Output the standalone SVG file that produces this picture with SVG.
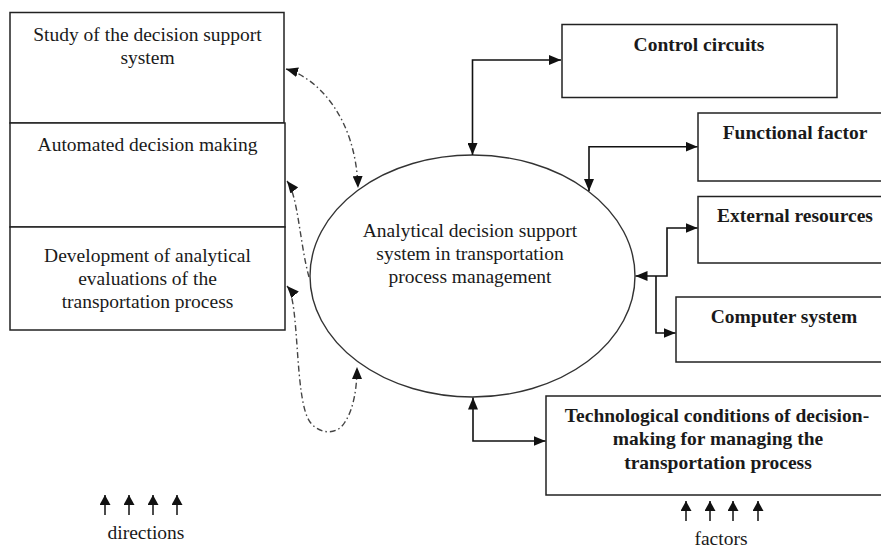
<svg xmlns="http://www.w3.org/2000/svg" width="881" height="551" viewBox="0 0 881 551">
<defs>
<style>
.box{fill:#fff;stroke:#222;stroke-width:1.5}
.t{font-family:"Liberation Serif","Times New Roman",serif;font-size:19.5px;fill:#1a1a1a;text-anchor:middle}
.b{font-weight:bold}
.con{fill:none;stroke:#111;stroke-width:1.6}
.dd{fill:none;stroke:#444;stroke-width:1.4;stroke-dasharray:6 3 1.5 3}
.sm{fill:none;stroke:#111;stroke-width:1.5}
</style>
<marker id="ah" viewBox="0 0 12 10" refX="12" refY="5" markerWidth="12" markerHeight="10" markerUnits="userSpaceOnUse" orient="auto-start-reverse">
<path d="M0,0 L12,5 L0,10 Z" fill="#111"/>
</marker>
<marker id="ahs" viewBox="0 0 10 11" refX="10" refY="5.5" markerWidth="10" markerHeight="11" markerUnits="userSpaceOnUse" orient="auto-start-reverse">
<path d="M0,0 L10,5.5 L0,11 Z" fill="#111"/>
</marker>
</defs>
<rect width="881" height="551" fill="#fff"/>

<g id="study">
<rect class="box" x="10" y="12.5" width="274" height="110.5"/>
<text class="t" x="147.5" y="41">Study of the decision support</text>
<text class="t" x="147.5" y="64">system</text>
</g>
<g id="automated">
<rect class="box" x="10" y="123" width="275" height="104"/>
<text class="t" x="147.5" y="151">Automated decision making</text>
</g>
<g id="development">
<rect class="box" x="10" y="227" width="275" height="103"/>
<text class="t" x="147.5" y="262">Development of analytical</text>
<text class="t" x="147.5" y="285">evaluations of the</text>
<text class="t" x="147.5" y="308">transportation process</text>
</g>

<g id="center">
<ellipse cx="472.5" cy="276" rx="162.5" ry="121" fill="#fff" stroke="#333" stroke-width="1.4"/>
<text class="t" x="470" y="237">Analytical decision support</text>
<text class="t" x="470" y="260">system in transportation</text>
<text class="t" x="470" y="283">process management</text>
</g>

<g id="control">
<rect class="box" x="562" y="24.5" width="275" height="73"/>
<text class="t b" x="699" y="51">Control circuits</text>
</g>
<g id="functional">
<rect class="box" x="698" y="113" width="200" height="68"/>
<text class="t b" x="795" y="139">Functional factor</text>
</g>
<g id="external">
<rect class="box" x="698" y="196.5" width="200" height="66.5"/>
<text class="t b" x="795" y="222">External resources</text>
</g>
<g id="computer">
<rect class="box" x="676" y="297" width="220" height="65"/>
<text class="t b" x="784" y="323">Computer system</text>
</g>
<g id="technological">
<rect class="box" x="546" y="396" width="350" height="99"/>
<text class="t b" x="717" y="422">Technological conditions of decision-</text>
<text class="t b" x="718" y="445">making for managing the</text>
<text class="t b" x="718" y="469">transportation process</text>
</g>

<g id="connectors">
<path class="con" d="M472.5,155 V60 H561" marker-start="url(#ah)" marker-end="url(#ah)"/>
<path class="con" d="M589,191 V146.7 H697.5" marker-start="url(#ah)" marker-end="url(#ah)"/>
<path class="con" d="M635.5,276 H667 V228 H697.5" marker-start="url(#ah)" marker-end="url(#ah)"/>
<path class="con" d="M656,276 V333 H675.5" marker-end="url(#ah)"/>
<path class="con" d="M473,397.5 V441 H545.5" marker-start="url(#ah)" marker-end="url(#ah)"/>
<path class="dd" d="M286,69 C318,78 356,118 358,188" marker-start="url(#ah)" marker-end="url(#ah)"/>
<path class="dd" d="M309,277 C300,245 298,195 287,181" marker-end="url(#ah)"/>
<path class="dd" d="M287,286 C300,300 294,400 310,422 C318,433 336,437 345,422 C353,410 357,390 357,367" marker-start="url(#ah)" marker-end="url(#ah)"/>
</g>

<g id="directions">
<path class="sm" d="M105,515 V495" marker-end="url(#ahs)"/>
<path class="sm" d="M129,515 V495" marker-end="url(#ahs)"/>
<path class="sm" d="M153,515 V495" marker-end="url(#ahs)"/>
<path class="sm" d="M177,515 V495" marker-end="url(#ahs)"/>
<text class="t" x="146" y="539">directions</text>
</g>
<g id="factors">
<path class="sm" d="M686,521 V501" marker-end="url(#ahs)"/>
<path class="sm" d="M710,521 V501" marker-end="url(#ahs)"/>
<path class="sm" d="M733,521 V501" marker-end="url(#ahs)"/>
<path class="sm" d="M758,521 V501" marker-end="url(#ahs)"/>
<text class="t" x="721" y="545">factors</text>
</g>
</svg>
